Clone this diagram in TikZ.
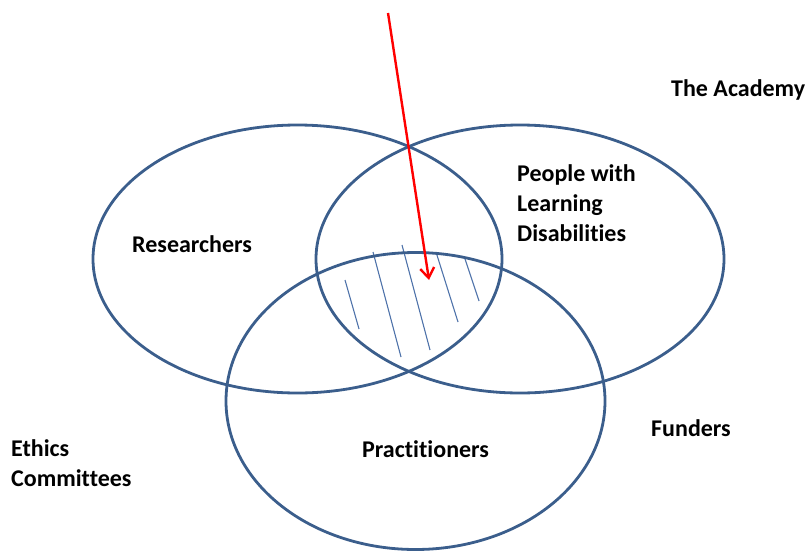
\documentclass[tikz,border=0pt]{standalone}
\usepackage{fontspec}
\setmainfont[Ligatures=NoCommon]{Carlito}
\usetikzlibrary{shapes.geometric,arrows.meta}
\definecolor{vennblue}{RGB}{59,94,140}
\definecolor{hatchblue}{RGB}{79,115,170}
\tikzset{
  venn/.style={ellipse, draw=vennblue, line width=2.8pt, inner sep=0pt, fill=none},
  lbl/.style={font=\fontsize{24}{30}\selectfont\bfseries, anchor=base west, inner sep=0pt, align=left, text=black},
  hatchline/.style={draw=hatchblue, line width=1.1pt},
  pointer/.style={draw=red, line width=2.4pt, -{Straight Barb[length=10pt,width=14pt,line width=2.4pt]}}
}
\begin{document}
\begin{tikzpicture}[x=1pt,y=-1pt]
\useasboundingbox (0,0) rectangle (810,551);
% hatch lines in the common region
\draw[hatchline] (345,280) -- (359,329);
\draw[hatchline] (373,252) -- (401,357);
\draw[hatchline] (402,245) -- (430,350);
\draw[hatchline] (436,252) -- (458,322);
\draw[hatchline] (465,259) -- (479,301);
% ellipses
\node[venn, minimum width=409pt, minimum height=268pt] (res) at (297.5,259) {};
\node[venn, minimum width=408pt, minimum height=268pt] (pld) at (520,259) {};
\node[venn, minimum width=379pt, minimum height=297pt] (pra) at (415.5,401) {};
% arrow
\coordinate (arrstart) at (388,13);
\coordinate (arrend) at (429,280);
\draw[pointer] (arrstart) -- (arrend);
% labels (multi-line nodes: base is the last line)
\node[lbl] (academy) at (671,96) {The Academy};
\node[lbl] (people) at (517,241) {People with\\Learning\\Disabilities};
\node[lbl] (researchers) at (132,252) {Researchers};
\node[lbl] (practitioners) at (362,457) {Practitioners};
\node[lbl] (funders) at (651,436) {Funders};
\node[lbl] (ethics) at (11,486) {Ethics\\Committees};
\end{tikzpicture}
\end{document}
